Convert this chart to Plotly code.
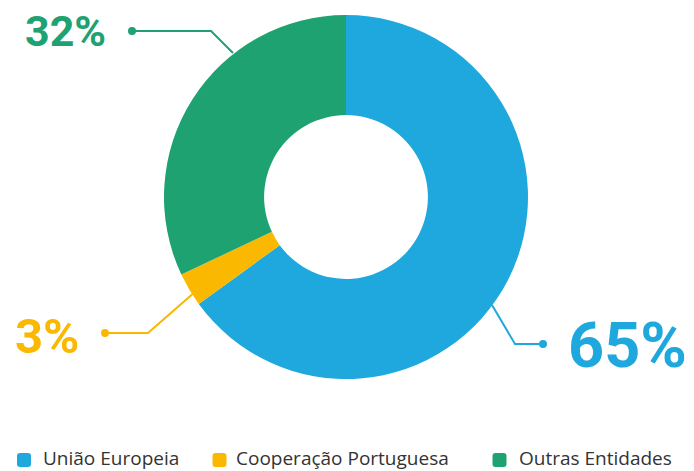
import plotly.graph_objects as go

# Funding sources and their share of the total
sources = ["União Europeia", "Cooperação Portuguesa", "Outras Entidades"]
shares = [65, 3, 32]
colors = ["#1EA8DD", "#FBB800", "#1FA271"]
pct_labels = ["65%", "3%", "32%"]

W, H = 694, 471


def px(x):
    return x / W


def py(y):
    return 1 - y / H


fig = go.Figure(
    go.Pie(
        labels=sources,
        values=shares,
        marker=dict(colors=colors, line=dict(width=0)),
        hole=0.45,
        sort=False,
        direction="clockwise",
        rotation=0,
        textinfo="none",
        hoverinfo="label+percent",
        showlegend=False,
        domain=dict(x=[px(164), px(528)], y=[py(379), py(15)]),
    )
)

# Leader lines (elbow) with a dot at the outer end, one per slice
leaders = {
    "65%": dict(edge=(492, 305), elbow=(515, 344), dot=(543, 344), text=(627, 345), size=63),
    "3%": dict(edge=(196, 291), elbow=(148, 333), dot=(105, 333), text=(47, 336), size=49),
    "32%": dict(edge=(233, 53), elbow=(211, 31), dot=(132, 31), text=(65, 31), size=43),
}

shapes = []
annotations = []
for lab, col in zip(pct_labels, colors):
    g = leaders[lab]
    (ex, ey), (bx, by), (dx, dy) = g["edge"], g["elbow"], g["dot"]
    shapes.append(dict(
        type="path", xref="paper", yref="paper",
        path=f"M{px(ex)},{py(ey)} L{px(bx)},{py(by)} L{px(dx)},{py(dy)}",
        line=dict(color=col, width=2), layer="above",
    ))
    r = 4
    shapes.append(dict(
        type="circle", xref="paper", yref="paper",
        x0=px(dx - r), x1=px(dx + r), y0=py(dy + r), y1=py(dy - r),
        fillcolor=col, line=dict(width=0), layer="above",
    ))
    tx, ty = g["text"]
    annotations.append(dict(
        text=f"<b>{lab}</b>", x=px(tx), y=py(ty), xref="paper", yref="paper",
        xanchor="center", yanchor="middle", showarrow=False,
        font=dict(family="Roboto", size=g["size"], color=col),
    ))

# Legend row along the bottom: rounded swatch + label for each source
legend_swatch_x = [24, 219.5, 499.5]
legend_text_x = [41, 234, 517]
legend_y = 460
half, rad = 7, 3
for name, col, sx, tx in zip(sources, colors, legend_swatch_x, legend_text_x):
    x0, x1 = sx - half, sx + half
    y0, y1 = legend_y - half, legend_y + half
    path = (
        f"M{px(x0 + rad)},{py(y0)} L{px(x1 - rad)},{py(y0)} "
        f"Q{px(x1)},{py(y0)} {px(x1)},{py(y0 + rad)} "
        f"L{px(x1)},{py(y1 - rad)} Q{px(x1)},{py(y1)} {px(x1 - rad)},{py(y1)} "
        f"L{px(x0 + rad)},{py(y1)} Q{px(x0)},{py(y1)} {px(x0)},{py(y1 - rad)} "
        f"L{px(x0)},{py(y0 + rad)} Q{px(x0)},{py(y0)} {px(x0 + rad)},{py(y0)} Z"
    )
    shapes.append(dict(
        type="path", xref="paper", yref="paper", path=path,
        fillcolor=col, line=dict(width=0), layer="above",
    ))
    annotations.append(dict(
        text=name, x=px(tx), y=0, xref="paper", yref="paper",
        xanchor="left", yanchor="bottom", yshift=-2, showarrow=False,
        font=dict(family="Open Sans", size=19, color="#333333"),
    ))

fig.update_layout(
    width=W, height=H,
    margin=dict(l=0, r=0, t=0, b=0),
    paper_bgcolor="white",
    plot_bgcolor="white",
    shapes=shapes,
    annotations=annotations,
    showlegend=False,
)

fig.write_html("out.html")
